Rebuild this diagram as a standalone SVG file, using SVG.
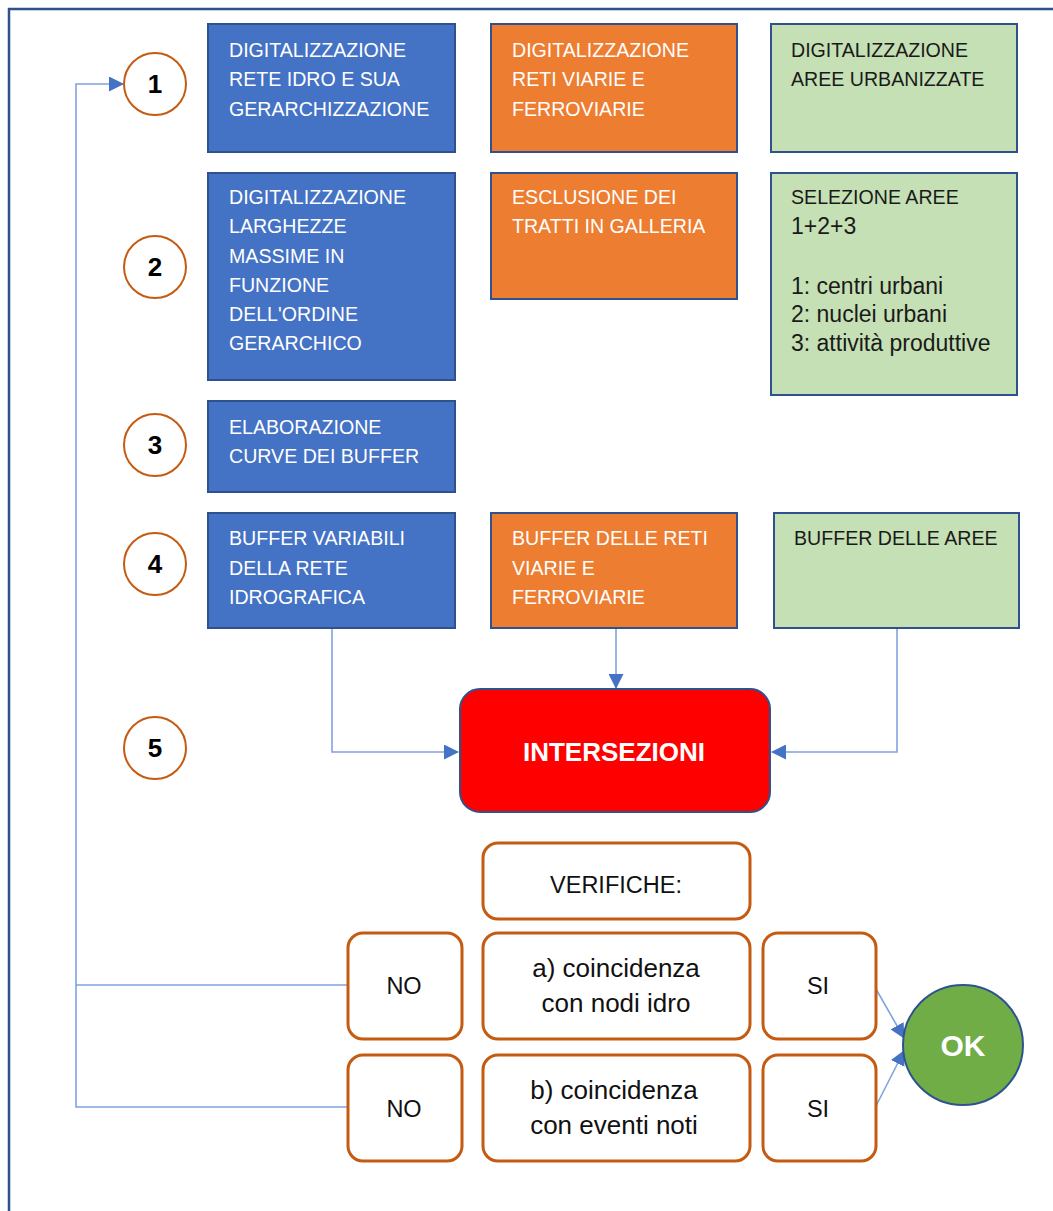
<svg xmlns="http://www.w3.org/2000/svg" width="1053" height="1211" viewBox="0 0 1053 1211">
<style>
  text { font-family: "Liberation Sans", Arial, sans-serif; }
  .frame { fill: none; stroke: #2F528F; stroke-width: 2.5; }
  .blue { fill: #4472C4; stroke: #2F528F; stroke-width: 2; }
  .orange { fill: #ED7D31; stroke: #2F528F; stroke-width: 2; }
  .green { fill: #C5E0B4; stroke: #2F528F; stroke-width: 2; }
  .step { fill: #ffffff; stroke: #C55A11; stroke-width: 2; }
  .num { font-size: 26px; font-weight: bold; fill: #000; text-anchor: middle; }
  .wt { font-size: 19.6px; fill: #ffffff; }
  .bt { font-size: 19.6px; fill: #1a1a1a; }
  .bt2 { font-size: 23px; fill: #1a1a1a; }
  .ver { fill: #ffffff; stroke: #C55A11; stroke-width: 3; }
  .vt { font-size: 23.5px; fill: #111; text-anchor: middle; }
  .vl { font-size: 26px; fill: #111; text-anchor: middle; }
  .conn { fill: none; stroke: #7FA3DF; stroke-width: 1.6; }
</style>
<defs>
  <marker id="arr" markerUnits="userSpaceOnUse" markerWidth="15" markerHeight="15" refX="14" refY="7.5" orient="auto">
    <path d="M0,0 L15,7.5 L0,15 z" fill="#4472C4"/>
  </marker>
</defs>
<rect width="1053" height="1211" fill="#ffffff"/>
<path class="frame" d="M9,1211 L9,9 L1053,9"/>

<g id="connectors">
  <path class="conn" d="M332,628 L332,752 L458,752" marker-end="url(#arr)"/>
  <path class="conn" d="M616,628 L616,688" marker-end="url(#arr)"/>
  <path class="conn" d="M897,628 L897,752 L772,752" marker-end="url(#arr)"/>
  <path class="conn" d="M348,985 L76,985 L76,84 L123,84" marker-end="url(#arr)"/>
  <path class="conn" d="M348,1107 L76,1107 L76,985"/>
  <path class="conn" d="M876,989 L904,1038" marker-end="url(#arr)"/>
  <path class="conn" d="M876,1106 L904,1051" marker-end="url(#arr)"/>
</g>

<g id="step1"><circle class="step" cx="155" cy="84" r="31"/><text class="num" x="155" y="93">1</text></g>
<g id="step2"><circle class="step" cx="155" cy="267" r="31"/><text class="num" x="155" y="276">2</text></g>
<g id="step3"><circle class="step" cx="155" cy="445" r="31"/><text class="num" x="155" y="454">3</text></g>
<g id="step4"><circle class="step" cx="155" cy="564" r="31"/><text class="num" x="155" y="573">4</text></g>
<g id="step5"><circle class="step" cx="155" cy="748" r="31"/><text class="num" x="155" y="757">5</text></g>

<g id="blue1"><rect class="blue" x="208" y="24" width="247" height="128"/>
  <text class="wt" x="229" y="57">DIGITALIZZAZIONE</text>
  <text class="wt" x="229" y="86">RETE IDRO E SUA</text>
  <text class="wt" x="229" y="116">GERARCHIZZAZIONE</text></g>
<g id="orange1"><rect class="orange" x="491" y="24" width="246" height="128"/>
  <text class="wt" x="512" y="57">DIGITALIZZAZIONE</text>
  <text class="wt" x="512" y="86">RETI VIARIE E</text>
  <text class="wt" x="512" y="116">FERROVIARIE</text></g>
<g id="green1"><rect class="green" x="771" y="24" width="246" height="128"/>
  <text class="bt" x="791" y="57">DIGITALIZZAZIONE</text>
  <text class="bt" x="791" y="86">AREE URBANIZZATE</text></g>

<g id="blue2"><rect class="blue" x="208" y="173" width="247" height="207"/>
  <text class="wt" x="229" y="204">DIGITALIZZAZIONE</text>
  <text class="wt" x="229" y="233">LARGHEZZE</text>
  <text class="wt" x="229" y="263">MASSIME IN</text>
  <text class="wt" x="229" y="292">FUNZIONE</text>
  <text class="wt" x="229" y="321">DELL'ORDINE</text>
  <text class="wt" x="229" y="350">GERARCHICO</text></g>
<g id="orange2"><rect class="orange" x="491" y="173" width="246" height="126"/>
  <text class="wt" x="512" y="204">ESCLUSIONE DEI</text>
  <text class="wt" x="512" y="233">TRATTI IN GALLERIA</text></g>
<g id="green2"><rect class="green" x="771" y="173" width="246" height="222"/>
  <text class="bt" x="791" y="204">SELEZIONE AREE</text>
  <text class="bt2" x="791" y="234">1+2+3</text>
  <text class="bt2" x="791" y="294">1: centri urbani</text>
  <text class="bt2" x="791" y="322">2: nuclei urbani</text>
  <text class="bt2" x="791" y="351">3: attività produttive</text></g>

<g id="blue3"><rect class="blue" x="208" y="401" width="247" height="91"/>
  <text class="wt" x="229" y="434">ELABORAZIONE</text>
  <text class="wt" x="229" y="463">CURVE DEI BUFFER</text></g>

<g id="blue4"><rect class="blue" x="208" y="513" width="247" height="115"/>
  <text class="wt" x="229" y="545">BUFFER VARIABILI</text>
  <text class="wt" x="229" y="575">DELLA RETE</text>
  <text class="wt" x="229" y="604">IDROGRAFICA</text></g>
<g id="orange4"><rect class="orange" x="491" y="513" width="246" height="115"/>
  <text class="wt" x="512" y="545">BUFFER DELLE RETI</text>
  <text class="wt" x="512" y="575">VIARIE E</text>
  <text class="wt" x="512" y="604">FERROVIARIE</text></g>
<g id="green4"><rect class="green" x="774" y="513" width="245" height="115"/>
  <text class="bt" x="794" y="545">BUFFER DELLE AREE</text></g>

<g id="intersezioni"><rect x="460" y="689" width="310" height="123" rx="20" fill="#FF0000" stroke="#2F528F" stroke-width="2"/>
  <text x="614" y="761" font-size="26" font-weight="bold" fill="#ffffff" text-anchor="middle">INTERSEZIONI</text></g>

<g id="verifiche"><rect class="ver" x="483" y="843" width="267" height="76" rx="15"/>
  <text class="vt" x="616" y="893">VERIFICHE:</text></g>
<g id="no1"><rect class="ver" x="348" y="933" width="114" height="106" rx="15"/>
  <text class="vt" x="404" y="994">NO</text></g>
<g id="checkA"><rect class="ver" x="483" y="933" width="267" height="106" rx="15"/>
  <text class="vl" x="616" y="977">a) coincidenza</text>
  <text class="vl" x="616" y="1012">con nodi idro</text></g>
<g id="si1"><rect class="ver" x="763" y="933" width="113" height="106" rx="15"/>
  <text class="vt" x="818" y="994">SI</text></g>
<g id="no2"><rect class="ver" x="348" y="1055" width="114" height="106" rx="15"/>
  <text class="vt" x="404" y="1117">NO</text></g>
<g id="checkB"><rect class="ver" x="483" y="1055" width="267" height="106" rx="15"/>
  <text class="vl" x="614" y="1099">b) coincidenza</text>
  <text class="vl" x="614" y="1134">con eventi noti</text></g>
<g id="si2"><rect class="ver" x="763" y="1055" width="113" height="106" rx="15"/>
  <text class="vt" x="818" y="1117">SI</text></g>

<g id="ok"><circle cx="963" cy="1045" r="60" fill="#70AD47" stroke="#2F528F" stroke-width="2"/>
  <text x="963" y="1056" font-size="30" font-weight="bold" fill="#ffffff" text-anchor="middle">OK</text></g>
</svg>
